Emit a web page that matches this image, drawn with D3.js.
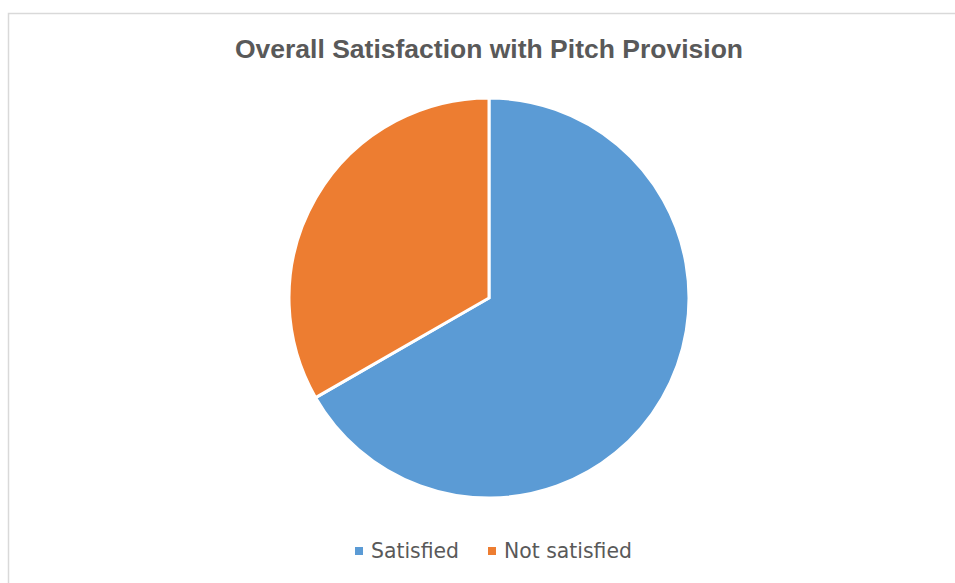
<!DOCTYPE html>
<html>
<head>
<meta charset="utf-8">
<script src="https://cdn.jsdelivr.net/npm/d3@7"></script>
<style>
  body { margin: 0; background: #fff; }
  svg { display: block; }
</style>
</head>
<body>
<svg id="chart"></svg>
<script>
var width = 955;
var height = 583;

// data
var categories = ["Satisfied", "Not satisfied"];
var values = [66.7, 33.3];
var colors = ["#5b9bd5", "#ed7d31"];

var center = { x: 489, y: 298 };
var radius = 200;

var svg = d3.select("#chart")
  .attr("width", width)
  .attr("height", height);

// chart frame
svg.append("rect")
  .attr("x", 8.5)
  .attr("y", 13.5)
  .attr("width", 960)
  .attr("height", 600)
  .attr("fill", "none")
  .attr("stroke", "#d9d9d9")
  .attr("stroke-width", 1.5);

svg.append("text")
  .attr("x", 489)
  .attr("y", 58)
  .attr("text-anchor", "middle")
  .attr("font-family", "Liberation Sans, Arial, sans-serif")
  .attr("font-weight", "bold")
  .attr("font-size", "26.5px")
  .attr("fill", "#595959")
  .text("Overall Satisfaction with Pitch Provision");

var data = categories.map(function (c, i) {
  return { name: c, value: values[i], color: colors[i] };
});

var pie = d3.pie()
  .sort(null)
  .value(function (d) { return d.value; });

var arc = d3.arc()
  .innerRadius(0)
  .outerRadius(radius);

var g = svg.append("g")
  .attr("transform", "translate(" + center.x + "," + center.y + ")");

g.selectAll(".slice")
  .data(pie(data))
  .enter().append("path")
  .attr("class", "slice")
  .attr("d", arc)
  .attr("fill", function (d) { return d.data.color; })
  .attr("stroke", "#fff")
  .attr("stroke-width", 3);

// legend
var legendX = [355, 488];
var legend = svg.append("g").attr("class", "legend");

var items = legend.selectAll(".item")
  .data(data)
  .enter().append("g")
  .attr("class", "item")
  .attr("transform", function (d, i) { return "translate(" + legendX[i] + ",0)"; });

items.append("rect")
  .attr("x", 0)
  .attr("y", 547)
  .attr("width", 8)
  .attr("height", 8)
  .attr("fill", function (d) { return d.color; });

items.append("text")
  .attr("x", 16)
  .attr("y", 558)
  .attr("font-family", "DejaVu Sans, Verdana, sans-serif")
  .attr("font-size", "20.4px")
  .attr("fill", "#595959")
  .text(function (d) { return d.name; });
</script>
</body>
</html>
